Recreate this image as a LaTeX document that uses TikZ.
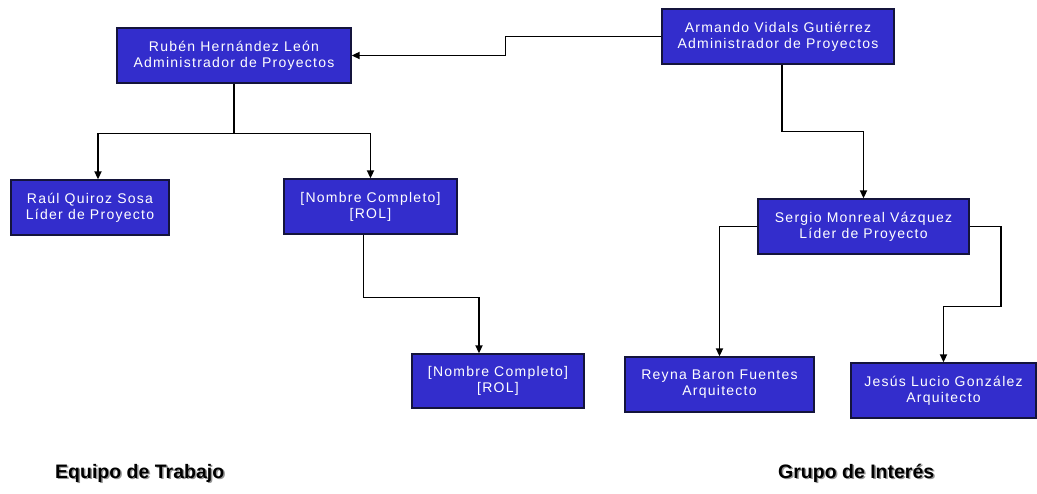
\documentclass[tikz,border=0pt]{standalone}
\usepackage{fontspec}
\setmainfont{Liberation Sans}
\usetikzlibrary{arrows.meta}
\definecolor{boxblue}{RGB}{51,45,204}
\definecolor{boxedge}{RGB}{20,20,60}
\definecolor{shadowgray}{RGB}{150,150,150}
\begin{document}
\begin{tikzpicture}[x=1pt,y=-1pt,
  person/.style={draw=boxedge, line width=1.3pt, fill=boxblue, text=white,
    align=center, inner sep=0pt,
    font=\fontsize{14}{16}\selectfont\addfontfeature{LetterSpace=9}},
  link/.style={draw=black, line width=1.7pt},
  arr/.style={link, -{Triangle[length=8pt,width=7pt]}},
  group/.style={anchor=west, inner sep=0pt, font=\fontsize{19.5}{21}\selectfont\bfseries},
]
\useasboundingbox[fill=white] (0,0) rectangle (1037,494);

% people
\node[person, minimum width=234pt, minimum height=55pt] (rub)   at (234,55.5)  {Rubén Hernández León\\Administrador de Proyectos};
\node[person, minimum width=232pt, minimum height=55pt] (arm)   at (778,36.5)  {Armando Vidals Gutiérrez\\Administrador de Proyectos};
\node[person, minimum width=158pt, minimum height=55pt] (raul)  at (90,207.5)  {Raúl Quiroz Sosa\\Líder de Proyecto};
\node[person, minimum width=173pt, minimum height=55pt] (nomA)  at (370.5,206.5) {[Nombre Completo]\\{[ROL]}};
\node[person, minimum width=172pt, minimum height=54pt] (nomB)  at (498,381)   {[Nombre Completo]\\{[ROL]}};
\node[person, minimum width=211pt, minimum height=55pt] (serg)  at (863.5,226.5) {Sergio Monreal Vázquez\\Líder de Proyecto};
\node[person, minimum width=189pt, minimum height=55pt] (reyna) at (719.5,384.5) {Reyna Baron Fuentes\\Arquitecto};
\node[person, minimum width=185pt, minimum height=55pt] (jesus) at (943.5,390.5) {Jesús Lucio González\\Arquitecto};

% connectors
\draw[arr] (arm.west) -- ++(-156,0) |- (rub.east);
\draw[link] (rub.south) -- ++(0,50) coordinate (bar);
\draw[arr] (bar) -| ([xshift=8pt]raul.north);
\draw[arr] (bar) -| (nomA.north);
\draw[arr] ([xshift=-7pt]nomA.south) -- ++(0,63) -| ([xshift=-19pt]nomB.north);
\draw[arr] ([xshift=4pt]arm.south) -- ++(0,67) -| (serg.north);
\draw[arr] (serg.west) -| (reyna.north);
\draw[arr] (serg.east) -- ++(31,0) -- ++(0,80) -| (jesus.north);

% group captions with their drop shadow
\node[group, text=shadowgray] (eqS) at (56.5,474.5) {Equipo de Trabajo};
\node[group] (eq) at (55,473) {Equipo de Trabajo};
\node[group, text=shadowgray] (grS) at (779.5,474.5) {Grupo de Interés};
\node[group] (gr) at (778,473) {Grupo de Interés};
\end{tikzpicture}
\end{document}
